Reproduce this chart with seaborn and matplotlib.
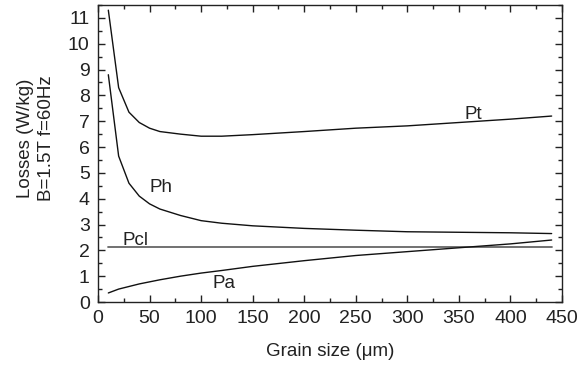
import numpy as np
import pandas as pd
import seaborn as sns
import matplotlib
matplotlib.use("Agg")
import matplotlib.pyplot as plt
from matplotlib.ticker import MultipleLocator

# grain size (um) and loss components (W/kg)
grain = [10, 20, 30, 40, 50, 60, 80, 100, 120, 150, 200, 250, 300, 350, 400, 440]
ph = [8.8, 5.65, 4.6, 4.1, 3.8, 3.6, 3.35, 3.15, 3.05, 2.95, 2.85, 2.78, 2.72, 2.7, 2.68, 2.65]
pa = [0.35, 0.5, 0.6, 0.7, 0.78, 0.86, 1.0, 1.12, 1.22, 1.38, 1.6, 1.8, 1.95, 2.1, 2.25, 2.4]
pcl = [2.14] * len(grain)
pt = [11.3, 8.3, 7.35, 6.95, 6.73, 6.6, 6.5, 6.42, 6.42, 6.48, 6.6, 6.73, 6.82, 6.95, 7.08, 7.2]

df = pd.DataFrame({"grain": grain, "Pt": pt, "Ph": ph, "Pcl": pcl, "Pa": pa})

sns.set_style("ticks")
plt.rcParams["font.family"] = ["Liberation Sans", "DejaVu Sans"]

fig = plt.figure(figsize=(5.88, 3.65), dpi=100)
ax = fig.add_axes([0.1667, 0.1726, 0.789, 0.8137])

styles = [("Pt", "#111111", 1.0), ("Ph", "#111111", 1.0), ("Pcl", "#666666", 1.3), ("Pa", "#111111", 1.0)]
for col, c, lw in styles:
    sns.lineplot(data=df, x="grain", y=col, ax=ax, color=c, linewidth=lw)

# curve labels
fs = 13.5
ax.text(355, 7.09, "Pt", fontsize=fs, va="baseline", color="#222222")
ax.text(50, 4.26, "Ph", fontsize=fs, va="baseline", color="#222222")
ax.text(24, 2.2, "Pcl", fontsize=fs, va="baseline", color="#222222")
ax.text(111, 0.54, "Pa", fontsize=fs, va="baseline", color="#222222")

ax.set_xlim(0, 450)
ax.set_ylim(0, 11.5)
ax.xaxis.set_major_locator(MultipleLocator(50))
ax.xaxis.set_minor_locator(MultipleLocator(25))
ax.yaxis.set_major_locator(MultipleLocator(1))
ax.yaxis.set_minor_locator(MultipleLocator(0.5))
ax.tick_params(which="both", direction="in", top=True, right=True, labelsize=14,
               width=1.0, color="#222222", labelcolor="#222222")
ax.tick_params(which="major", length=5, pad=6)
ax.tick_params(which="minor", length=3)
for s in ax.spines.values():
    s.set_linewidth(1.0)
    s.set_color("#222222")

ax.set_xlabel("Grain size (\u03bcm)", fontsize=fs, labelpad=11, color="#222222")
ax.set_ylabel("Losses (W/kg)\nB=1.5T f=60Hz", fontsize=fs,
              color="#222222", linespacing=1.3)
ax.yaxis.set_label_coords(-0.093, 0.55)

fig.savefig("out.png", dpi=100)
